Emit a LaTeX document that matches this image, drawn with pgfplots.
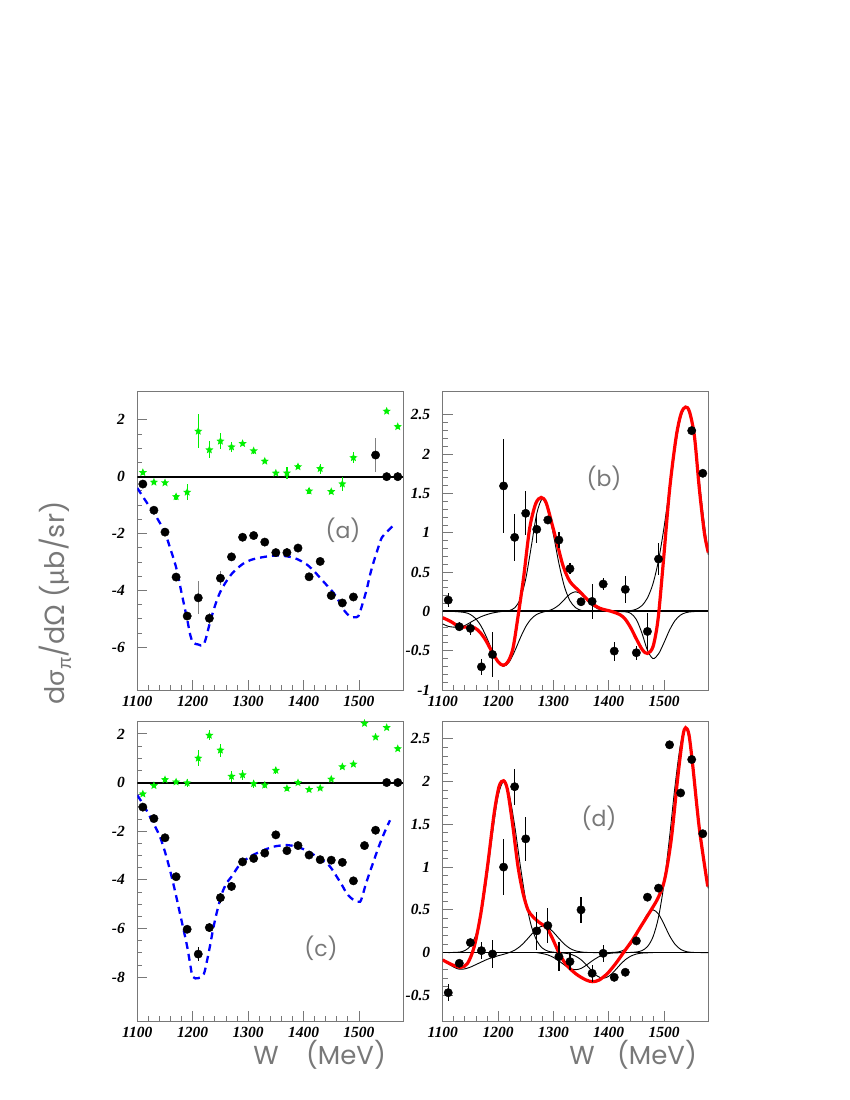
\documentclass[border=0pt]{standalone}
\usepackage{fontspec}
\usepackage{pgfplots}
\usepackage{pgfplotstable}
\pgfplotsset{compat=1.18}
\setmainfont{Liberation Serif}
\newfontfamily\popfont{Poppins}
\newfontfamily\grkfont{Lato}
\newcommand\tickfont{\bfseries\itshape\fontsize{15.5}{15.5}\selectfont}
\definecolor{lgreen}{RGB}{0,240,0}
\definecolor{txtgray}{RGB}{120,120,120}

\pgfdeclareplotmark{fstar}{%
  \pgfpathmoveto{\pgfpointpolar{90}{\pgfplotmarksize}}%
  \pgfpathlineto{\pgfpointpolar{126}{0.45\pgfplotmarksize}}%
  \pgfpathlineto{\pgfpointpolar{162}{\pgfplotmarksize}}%
  \pgfpathlineto{\pgfpointpolar{198}{0.45\pgfplotmarksize}}%
  \pgfpathlineto{\pgfpointpolar{234}{\pgfplotmarksize}}%
  \pgfpathlineto{\pgfpointpolar{270}{0.45\pgfplotmarksize}}%
  \pgfpathlineto{\pgfpointpolar{306}{\pgfplotmarksize}}%
  \pgfpathlineto{\pgfpointpolar{342}{0.45\pgfplotmarksize}}%
  \pgfpathlineto{\pgfpointpolar{18}{\pgfplotmarksize}}%
  \pgfpathlineto{\pgfpointpolar{54}{0.45\pgfplotmarksize}}%
  \pgfpathclose\pgfusepathqfill}

% (b) dots = green stars of (a)
\pgfplotstableread{
x y ey
1110 0.144 0.09
1130 -0.195 0.06
1150 -0.216 0.08
1170 -0.705 0.1
1190 -0.548 0.29
1210 1.596 0.6
1230 0.942 0.3
1250 1.248 0.28
1270 1.044 0.17
1290 1.163 0.05
1310 0.908 0.1
1330 0.543 0.07
1350 0.123 0.05
1370 0.127 0.22
1390 0.348 0.08
1410 -0.505 0.12
1430 0.28 0.17
1450 -0.526 0.09
1470 -0.255 0.24
1490 0.666 0.2
1550 2.30 0.02
1570 1.757 0.02
}\tabB

\pgfplotstableread{
x y ey
1110 -0.26 0.08
1130 -1.18 0.08
1150 -1.95 0.08
1170 -3.53 0.08
1190 -4.9 0.15
1210 -4.26 0.58
1230 -4.98 0.2
1250 -3.57 0.25
1270 -2.82 0.1
1290 -2.13 0.08
1310 -2.07 0.08
1330 -2.30 0.08
1350 -2.67 0.08
1370 -2.67 0.15
1390 -2.51 0.08
1410 -3.52 0.08
1430 -2.98 0.12
1450 -4.18 0.08
1470 -4.44 0.15
1490 -4.23 0.15
1530 0.76 0.6
1550 0 0.02
1570 0 0.02
}\tabA

\pgfplotstableread{
x y ey
1110 -1.01 0.08
1130 -1.48 0.08
1150 -2.27 0.08
1170 -3.87 0.08
1190 -6.03 0.1
1210 -7.05 0.3
1230 -5.96 0.2
1250 -4.73 0.2
1270 -4.27 0.2
1290 -3.26 0.1
1310 -3.12 0.08
1330 -2.90 0.08
1350 -2.15 0.08
1370 -2.80 0.08
1390 -2.59 0.08
1410 -2.98 0.08
1430 -3.17 0.08
1450 -3.19 0.08
1470 -3.28 0.08
1490 -4.04 0.08
1510 -2.59 0.08
1530 -1.96 0.08
1550 0 0.02
1570 0 0.02
}\tabC

% (d) dots = green stars of (c)
\pgfplotstableread{
x y ey
1110 -0.469 0.1
1130 -0.125 0.03
1150 0.117 0.04
1170 0.023 0.1
1190 -0.016 0.16
1210 1.0 0.33
1230 1.94 0.21
1250 1.33 0.26
1270 0.254 0.22
1290 0.316 0.2
1310 -0.047 0.17
1330 -0.105 0.1
1350 0.5 0.15
1370 -0.242 0.1
1390 -0.008 0.1
1410 -0.289 0.03
1430 -0.23 0.03
1450 0.137 0.03
1470 0.648 0.03
1490 0.754 0.03
1510 2.43 0.03
1530 1.867 0.03
1550 2.258 0.03
1570 1.39 0.03
}\tabD

\pgfplotsset{
  panel/.style={
    scale only axis, xmin=1100, xmax=1580,
    axis line style={txtgray, line width=0.8pt},
    tick align=inside, tick pos=left,
    xtick={1100,1200,1300,1400,1500}, minor x tick num=4,
    major tick length=10pt, minor tick length=5pt,
    tick style={txtgray, line width=0.8pt},
    /pgf/number format/assume math mode=true,
    /pgf/number format/set thousands separator={},
    xticklabel={\tickfont\pgfmathprintnumber[assume math mode=true,set thousands separator={}]{\tick}},
    yticklabel={\tickfont\pgfmathprintnumber[assume math mode=true]{\tick}},
    xticklabel style={yshift=-3pt, font=\tickfont},
    yticklabel style={xshift=-9pt, font=\tickfont},
  },
  blackpts/.style={only marks, mark=*, mark size=4.2pt, black,
    error bars/.cd, y dir=both, y explicit, error mark=none,
    error bar style={line width=1.2pt}},
  greenpts/.style={only marks, mark=fstar, mark size=4.3pt, lgreen,
    error bars/.cd, y dir=both, y explicit, error mark=none,
    error bar style={lgreen, line width=1.3pt}},
  thin/.style={black, line width=0.9pt, smooth},
  redc/.style={red, line width=3.2pt, smooth},
  bluec/.style={blue, line width=2.3pt, dash pattern=on 7pt off 5pt, smooth},
}

\begin{document}
\begin{tikzpicture}
\path[use as bounding box] (0pt,0pt) rectangle (850pt,-1100pt);

% ---------- (a)
\begin{axis}[panel, at={(137.3pt,-690pt)}, anchor=south west,
  width=266pt, height=298.7pt, ymin=-7.5, ymax=3,
  ytick={-6,-4,-2,0,2}, minor y tick num=3]
\addplot[black, line width=2pt] coordinates {(1100,0) (1580,0)};
\addplot[bluec] coordinates {(1100,-0.40) (1115,-0.85) (1128,-1.22) (1140,-1.6) (1150,-1.98) (1160,-2.55) (1171,-3.26) (1180,-4.1) (1190,-5.02) (1196,-5.6) (1201,-5.84) (1210,-5.9) (1219,-5.93) (1225,-5.6) (1231,-5.13) (1240,-4.55) (1249,-4.08) (1260,-3.7) (1273,-3.36) (1291,-3.06) (1306,-2.92) (1321,-2.85) (1336,-2.8) (1351,-2.77) (1366,-2.79) (1382,-2.85) (1394,-2.95) (1406,-3.09) (1418,-3.3) (1430,-3.56) (1442,-3.82) (1454,-4.08) (1463,-4.35) (1472,-4.67) (1484,-4.92) (1492,-4.94) (1499,-4.9) (1506,-4.5) (1514,-3.96) (1520,-3.45) (1526,-3.03) (1533,-2.6) (1541,-2.15) (1550,-1.95) (1560,-1.75)};
\addplot[greenpts] table[x=x, y=y, y error=ey] {\tabB};
\addplot[blackpts, error bar style={gray}] table[x=x, y=y, y error=ey] {\tabA};
\end{axis}

% ---------- (b)
\begin{axis}[panel, at={(442.7pt,-690pt)}, anchor=south west,
  width=265.6pt, height=298.7pt, ymin=-1, ymax=2.8,
  ytick={-1,-0.5,0,0.5,1,1.5,2,2.5}, minor y tick num=4]
\addplot[black, line width=2pt] coordinates {(1100,0) (1580,0)};
\addplot[thin] coordinates {(1100,0) (1120,-0.001) (1140,-0.014) (1150,-0.039) (1160,-0.095) (1170,-0.195) (1180,-0.341) (1190,-0.508) (1200,-0.646) (1210,-0.7) (1220,-0.646) (1230,-0.508) (1240,-0.341) (1250,-0.195) (1260,-0.095) (1270,-0.038) (1280,-0.011) (1290,0.007) (1300,0.033) (1310,0.081) (1320,0.152) (1330,0.221) (1340,0.25) (1350,0.221) (1360,0.152) (1370,0.081) (1380,0.034) (1390,0.011) (1400,0.003) (1420,0)};
\addplot[thin] coordinates {(1100,-0.16) (1110,-0.19) (1120,-0.2) (1130,-0.2) (1140,-0.18) (1150,-0.14) (1160,-0.1) (1170,-0.065) (1180,-0.04) (1190,-0.02) (1200,-0.008) (1210,0.002) (1220,0.01) (1230,0.045) (1240,0.156) (1250,0.411) (1260,0.822) (1270,1.245) (1280,1.43) (1290,1.30) (1300,0.98) (1310,0.61) (1320,0.315) (1330,0.135) (1340,0.048) (1350,0.014) (1360,0.003) (1380,0)};
\addplot[thin] coordinates {(1420,0) (1440,0.01) (1450,0.029) (1460,0.074) (1470,0.171) (1480,0.352) (1490,0.648) (1500,1.069) (1510,1.577) (1520,2.082) (1530,2.459) (1540,2.6) (1550,2.4) (1560,1.89) (1570,1.27) (1580,0.72)};
\addplot[thin] coordinates {(1410,0) (1430,-0.005) (1440,-0.026) (1450,-0.103) (1460,-0.275) (1470,-0.494) (1480,-0.6) (1490,-0.541) (1500,-0.397) (1510,-0.237) (1520,-0.115) (1530,-0.045) (1540,-0.015) (1550,-0.004) (1560,0)};
\addplot[redc] coordinates {(1100,-0.08) (1115,-0.13) (1130,-0.195) (1145,-0.2) (1158,-0.21) (1168,-0.27) (1178,-0.37) (1188,-0.5) (1200,-0.64) (1209,-0.685) (1218,-0.64) (1227,-0.47) (1236,-0.07) (1246,0.42) (1257,1.05) (1268,1.37) (1278,1.45) (1287,1.38) (1298,1.1) (1308,0.83) (1318,0.57) (1330,0.38) (1348,0.25) (1366,0.12) (1384,0.04) (1405,0.0) (1420,-0.04) (1430,-0.1) (1440,-0.21) (1450,-0.35) (1461,-0.49) (1470,-0.535) (1480,-0.45) (1489,-0.11) (1498,0.57) (1510,1.545) (1522,2.224) (1531,2.52) (1539,2.6) (1546,2.54) (1555,2.224) (1564,1.545) (1573,0.993) (1580,0.75)};
\addplot[blackpts] table[x=x, y=y, y error=ey] {\tabB};
\end{axis}

% ---------- (c)
\begin{axis}[panel, at={(137.3pt,-1021pt)}, anchor=south west,
  width=266pt, height=299.3pt, ymin=-9.8, ymax=2.5,
  ytick={-8,-6,-4,-2,0,2}, minor y tick num=3]
\addplot[black, line width=2pt] coordinates {(1100,0) (1580,0)};
\addplot[bluec] coordinates {(1100,-0.52) (1112,-0.95) (1123,-1.41) (1132,-1.8) (1141,-2.23) (1150,-2.85) (1159,-3.6) (1168,-4.45) (1177,-5.38) (1184,-6.1) (1190,-6.74) (1195,-7.4) (1200,-7.98) (1210,-8.04) (1220,-7.87) (1226,-7.3) (1231,-6.74) (1237,-6.0) (1243,-5.38) (1249,-4.85) (1255,-4.42) (1262,-4.1) (1270,-3.87) (1285,-3.37) (1303,-3.05) (1321,-2.85) (1345,-2.64) (1370,-2.57) (1388,-2.64) (1406,-2.8) (1424,-3.05) (1442,-3.32) (1451,-3.55) (1460,-3.87) (1469,-4.2) (1478,-4.56) (1486,-4.75) (1493,-4.86) (1502,-4.9) (1507,-4.6) (1511,-4.28) (1517,-3.85) (1523,-3.46) (1530,-3.0) (1538,-2.5) (1547,-2.0) (1556,-1.55)};
\addplot[greenpts] table[x=x, y=y, y error=ey] {\tabD};
\addplot[blackpts] table[x=x, y=y, y error=ey] {\tabC};
\end{axis}

% ---------- (d)
\begin{axis}[panel, at={(442.7pt,-1021pt)}, anchor=south west,
  width=265.6pt, height=299.3pt, ymin=-0.8, ymax=2.7,
  ytick={-0.5,0,0.5,1,1.5,2,2.5}, minor y tick num=4]
\addplot[black, line width=1.6pt] coordinates {(1100,0) (1580,0)};
\addplot[thin] coordinates {(1110,0) (1130,0.006) (1140,0.024) (1150,0.077) (1160,0.208) (1170,0.47) (1180,0.886) (1190,1.393) (1200,1.827) (1210,2.0) (1220,1.857) (1230,1.488) (1240,1.028) (1250,0.613) (1260,0.315) (1270,0.139) (1280,0.053) (1290,0.018) (1300,0.005) (1320,0)};
\addplot[thin] coordinates {(1100,-0.08) (1110,-0.13) (1120,-0.17) (1130,-0.195) (1140,-0.19) (1150,-0.17) (1160,-0.14) (1170,-0.11) (1180,-0.08) (1190,-0.057) (1200,-0.037) (1210,-0.02) (1220,0.0) (1230,0.028) (1240,0.073) (1250,0.137) (1260,0.21) (1270,0.276) (1280,0.31) (1290,0.295) (1300,0.239) (1310,0.166) (1320,0.098) (1330,0.049) (1340,0.021) (1350,0.008) (1360,0.002) (1380,0)};
\addplot[thin] coordinates {(1270,0) (1280,-0.011) (1290,-0.027) (1300,-0.056) (1310,-0.097) (1320,-0.145) (1330,-0.185) (1340,-0.2) (1350,-0.185) (1360,-0.145) (1370,-0.097) (1380,-0.056) (1390,-0.027) (1400,-0.011) (1410,-0.004) (1430,0)};
\addplot[thin] coordinates {(1310,0) (1320,-0.006) (1330,-0.017) (1340,-0.041) (1350,-0.083) (1360,-0.146) (1370,-0.218) (1380,-0.277) (1390,-0.3) (1400,-0.277) (1410,-0.218) (1420,-0.146) (1430,-0.083) (1440,-0.041) (1450,-0.017) (1460,-0.006) (1480,0)};
\addplot[thin] coordinates {(1400,0.001) (1410,0.003) (1420,0.012) (1430,0.038) (1440,0.096) (1450,0.197) (1460,0.331) (1470,0.451) (1480,0.5) (1490,0.451) (1500,0.331) (1510,0.197) (1520,0.096) (1530,0.038) (1540,0.012) (1550,0.003) (1560,0.001) (1580,0)};
\addplot[thin] coordinates {(1430,0) (1440,0.002) (1450,0.007) (1460,0.023) (1470,0.07) (1480,0.183) (1490,0.414) (1500,0.806) (1510,1.351) (1520,1.956) (1530,2.443) (1540,2.63) (1550,2.3) (1560,1.7) (1570,1.15) (1580,0.75)};
\addplot[redc] coordinates {(1100,-0.086) (1118,-0.145) (1133,-0.172) (1145,-0.125) (1157,0.07) (1169,0.46) (1181,1.01) (1193,1.63) (1202,1.945) (1210,2.01) (1217,1.906) (1226,1.516) (1236,1.01) (1245,0.7) (1254,0.5) (1263,0.42) (1275,0.35) (1288,0.29) (1298,0.17) (1310,0.0) (1323,-0.14) (1341,-0.25) (1359,-0.32) (1371,-0.34) (1383,-0.32) (1398,-0.242) (1413,-0.125) (1428,0.012) (1443,0.148) (1458,0.305) (1473,0.461) (1489,0.637) (1501,0.852) (1513,1.32) (1525,2.06) (1534,2.53) (1539,2.63) (1545,2.55) (1552,2.18) (1564,1.44) (1579,0.773)};
\addplot[blackpts] table[x=x, y=y, y error=ey] {\tabD};
\end{axis}

% ---------- texts
\node[text=txtgray, font=\popfont\fontsize{22}{22}\selectfont] at (343pt,-530pt) {(a)};
\node[text=txtgray, font=\popfont\fontsize{22}{22}\selectfont] at (604pt,-478pt) {(b)};
\node[text=txtgray, font=\popfont\fontsize{22}{22}\selectfont] at (321pt,-948pt) {(c)};
\node[text=txtgray, font=\popfont\fontsize{22}{22}\selectfont] at (599pt,-818pt) {(d)};
\node[text=txtgray, font=\popfont\fontsize{26}{26}\selectfont] at (266pt,-1055pt) {W};
\node[text=txtgray, font=\popfont\fontsize{26}{26}\selectfont] at (346pt,-1055pt) {(MeV)};
\node[text=txtgray, font=\popfont\fontsize{26}{26}\selectfont] at (582pt,-1055pt) {W};
\node[text=txtgray, font=\popfont\fontsize{26}{26}\selectfont] at (657pt,-1055pt) {(MeV)};
\node[text=txtgray, rotate=90, font=\popfont\fontsize{27}{27}\selectfont] at (55pt,-603pt)
  {d{\grkfont σ}\raisebox{-0.25em}{\fontsize{20}{20}\selectfont{\grkfont π}}/d{\grkfont Ω} ({\grkfont μ}b/sr)};
\end{tikzpicture}
\end{document}
